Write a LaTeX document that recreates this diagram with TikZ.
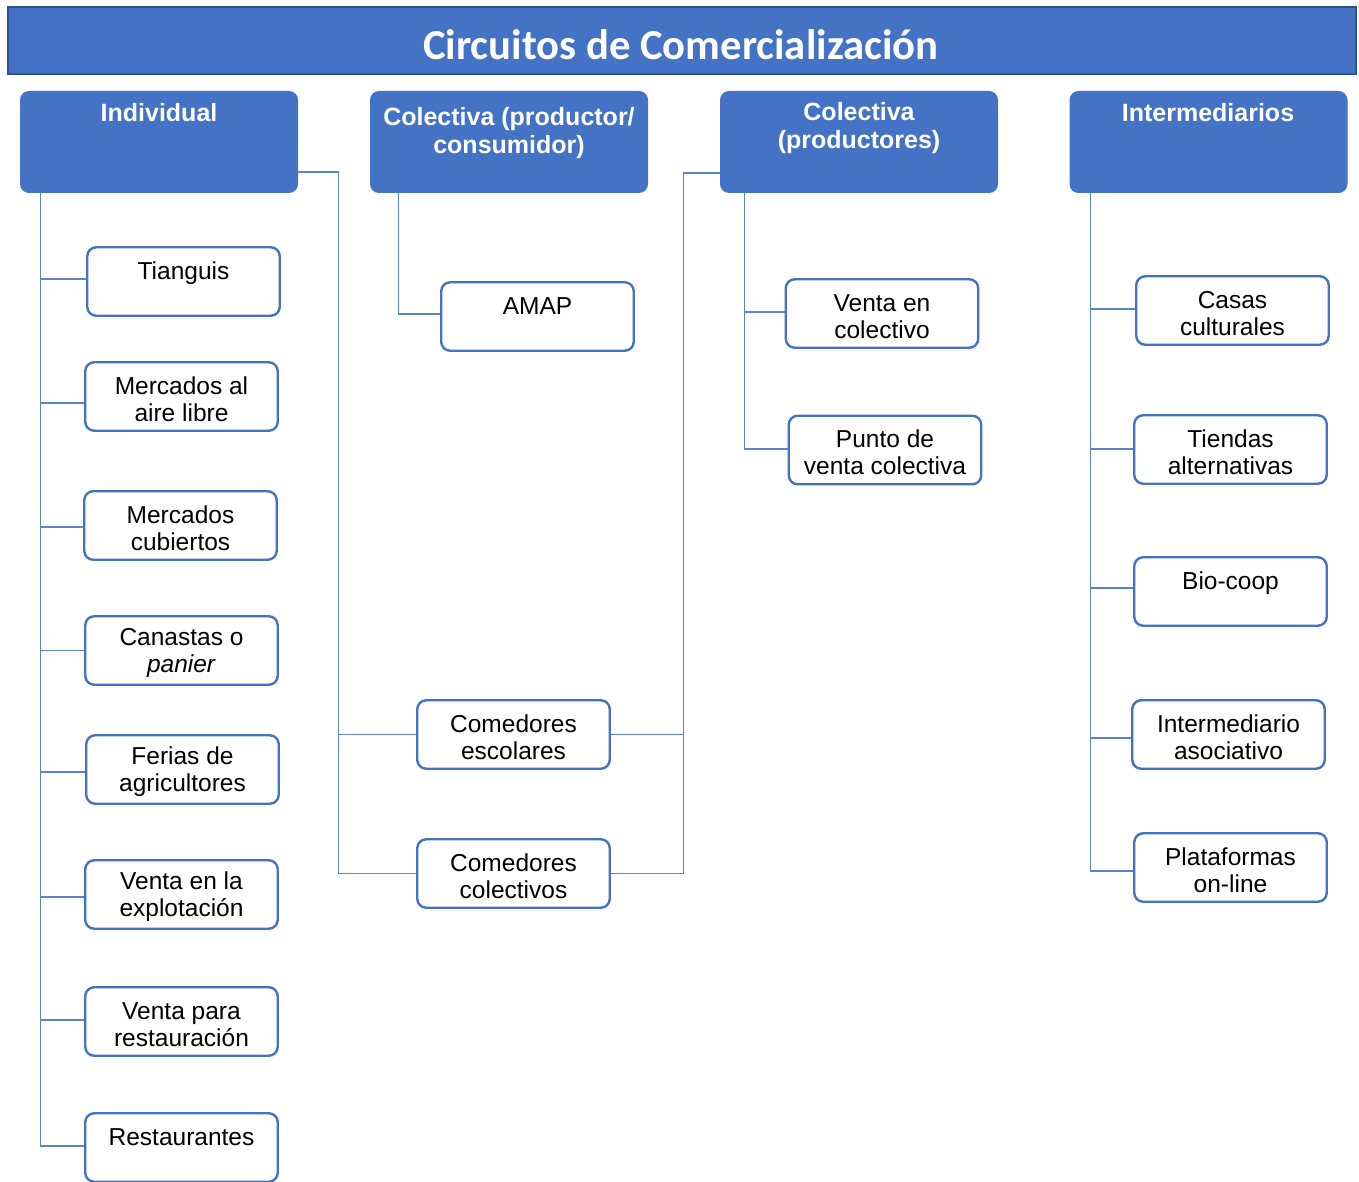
\documentclass[tikz,border=0pt]{standalone}
\usepackage{fontspec}
\setmainfont{Liberation Sans}
\newfontfamily\titlefont{Carlito}
\usetikzlibrary{calc}
\definecolor{mainblue}{HTML}{4472C4}
\definecolor{darkblue}{HTML}{2F528F}
\definecolor{linkblue}{HTML}{5B83CC}
\newcommand{\tpstrut}{\rule{0pt}{22.5pt}}
\newcommand{\onestrut}{\rule[-23.8pt]{0pt}{43.8pt}}
\begin{document}
\begin{tikzpicture}[x=1pt,y=1pt,
  hdr/.style={fill=mainblue, rounded corners=9pt, minimum width=278pt, minimum height=102pt, inner sep=0pt},
  hdrtxt/.style={text=white, font=\fontsize{25}{28}\selectfont\bfseries, align=center, inner sep=0pt},
  leaf/.style={draw=mainblue, line width=2.4pt, fill=white, rounded corners=9pt, minimum width=192.5pt, minimum height=68.5pt, inner sep=0pt, align=center, font=\fontsize{24.5}{27}\selectfont},
  conn/.style={draw=linkblue, line width=1.3pt}]
\useasboundingbox (0,0) rectangle (1359,-1182);
% title
\node[fill=mainblue, draw=darkblue, line width=2pt, minimum width=1348pt, minimum height=67pt, inner sep=0pt] (title) at (682,-40.5) {};
\node[text=white, font=\titlefont\bfseries\fontsize{42.7}{48}\selectfont, inner sep=0pt] (titletxt) at (681,-45) {Circuitos de Comercialización};
% headers
\node[hdr] (hInd) at (159,-142) {};
\node[hdrtxt] (tInd) at (159,-113) {Individual};
\node[hdr] (hCPC) at (509,-142) {};
\node[hdrtxt] (tCPC) at (509,-133) {Colectiva (productor/\\consumidor)};
\node[hdr] (hCP) at (859,-142) {};
\node[hdrtxt] (tCP) at (859,-128) {Colectiva\\(productores)};
\node[hdr] (hInt) at (1208.5,-142) {};
\node[hdrtxt] (tInt) at (1208,-113) {Intermediarios};
% leaves
\node[leaf] (l1) at (183.5,-281.5) {\onestrut Tianguis};
\node[leaf] (l2) at (181.5,-396.5) {\tpstrut Mercados al\\aire libre};
\node[leaf] (l3) at (180.5,-525.5) {\tpstrut Mercados\\cubiertos};
\node[leaf] (l4) at (181.5,-650.5) {\tpstrut Canastas o\\\textit{panier}};
\node[leaf] (l5) at (182.5,-769.5) {\tpstrut Ferias de\\agricultores};
\node[leaf] (l6) at (181.5,-894.5) {\tpstrut Venta en la\\explotación};
\node[leaf] (l7) at (181.5,-1021.5) {\tpstrut Venta para\\restauración};
\node[leaf] (l8) at (181.5,-1147.5) {\onestrut Restaurantes};
\node[leaf] (amap) at (537.5,-316.5) {\onestrut AMAP};
\node[leaf] (ce) at (513.5,-734.5) {\tpstrut Comedores\\escolares};
\node[leaf] (cc) at (513.5,-873.5) {\tpstrut Comedores\\colectivos};
\node[leaf] (vc) at (882,-313.5) {\tpstrut Venta en\\colectivo};
\node[leaf] (pv) at (885,-450) {\tpstrut Punto de\\venta colectiva};
\node[leaf] (cas) at (1232.5,-310.5) {\tpstrut Casas\\culturales};
\node[leaf] (tie) at (1230.5,-449.5) {\tpstrut Tiendas\\alternativas};
\node[leaf] (bio) at (1230.5,-591.5) {\onestrut Bio-coop};
\node[leaf] (ia) at (1228.5,-734.5) {\tpstrut Intermediario\\asociativo};
\node[leaf] (pl) at (1230.5,-867.5) {\tpstrut Plataformas\\on-line};
% connectors
\coordinate (vI) at ($(hInd.south west)+(21,0)$);
\foreach \n/\s in {l1/2.5,l2/-6.5,l3/-1.5,l4/0,l5/-2.5,l6/-2.5,l7/1.5,l8/1.5}
  \draw[conn] (vI) |- ([yshift=\s]\n.west);
\coordinate (vC) at ($(hCPC.south west)+(29,0)$);
\draw[conn] (vC) |- ([yshift=2.5]amap.west);
\coordinate (jI) at ($(hInd.east)+(40,-30)$);
\draw[conn] ([yshift=-30]hInd.east) -- (jI) |- (ce.west);
\draw[conn] (jI) |- (cc.west);
\coordinate (jP) at ($(hCP.west)+(-36,-31)$);
\draw[conn] ([yshift=-31]hCP.west) -- (jP) |- (ce.east);
\draw[conn] (jP) |- (cc.east);
\coordinate (vP) at ($(hCP.south west)+(25,0)$);
\draw[conn] (vP) |- ([yshift=1.5]vc.west);
\draw[conn] (vP) |- ([yshift=1]pv.west);
\coordinate (vN) at ($(hInt.south west)+(21,0)$);
\foreach \n/\s in {cas/1.5,tie/0.5,bio/3.5,ia/-3.5,pl/-3.5}
  \draw[conn] (vN) |- ([yshift=\s]\n.west);
\end{tikzpicture}
\end{document}
